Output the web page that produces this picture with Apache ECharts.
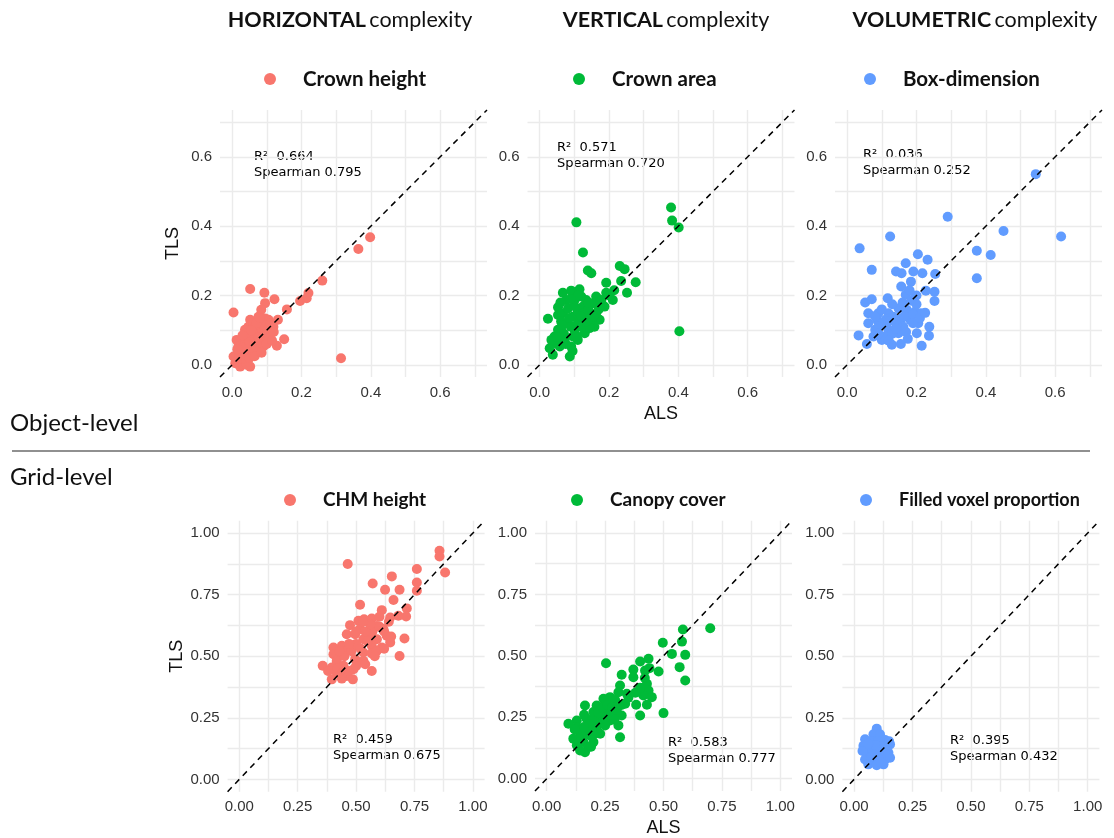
<!DOCTYPE html>
<html><head><meta charset="utf-8">
<script src="https://cdn.jsdelivr.net/npm/echarts@6/dist/echarts.min.js"></script>
<style>html,body{margin:0;padding:0;background:#fff}#c{width:1114px;height:838px}</style>
</head><body><div id="c"></div>
<script>
// ---------------- data ----------------
const columnTitles = [['HORIZONTAL', 'complexity'], ['VERTICAL', 'complexity'], ['VOLUMETRIC', 'complexity']];
const rowLabels = ['Object-level', 'Grid-level'];
const seriesNames = ['Crown height', 'Crown area', 'Box-dimension', 'CHM height', 'Canopy cover', 'Filled voxel proportion'];
const r2Values = ['0.664', '0.571', '0.036', '0.459', '0.583', '0.395'];
const spearmanValues = ['0.795', '0.720', '0.252', '0.675', '0.777', '0.432'];
const axisXName = 'ALS';
const axisYName = 'TLS';

const objectGridValues = [0, 0.1, 0.2, 0.3, 0.4, 0.5, 0.6, 0.7];
const objectTickLabels = [0, 0.2, 0.4, 0.6];
const objectRange = [-0.035, 0.735];
const gridGridValues = [0, 0.125, 0.25, 0.375, 0.5, 0.625, 0.75, 0.875, 1];
const gridTickLabels = [0, 0.25, 0.5, 0.75, 1];
const gridRange = [-0.05, 1.05];

const crownHeight = [
  [0.398,0.368],[0.364,0.334],[0.26,0.243],[0.22,0.207],[0.196,0.184],[0.215,0.192],[0.158,0.160],
  [0.314,0.019],[0.052,0.219],[0.093,0.208],[0.122,0.189],[0.004,0.151],[0.095,0.178],[0.084,0.159],
  [0.132,0.130],[0.119,0.110],[0.150,0.074],[0.129,0.055],[0.052,0.130],[0.047,0.110],
  [0.013,0.072],[0.028,0.072],[0.042,0.077],[0.057,0.086],[0.071,0.091],[0.086,0.101],[0.100,0.110],
  [0.105,0.130],[0.076,0.139],[0.061,0.120],[0.037,0.101],[0.018,0.053],[0.004,0.024],[0.009,0.005],
  [0.023,-0.005],[0.042,0.000],[0.052,-0.005],[0.033,0.019],[0.047,0.034],[0.066,0.048],[0.081,0.058],
  [0.095,0.072],[0.086,0.082],[0.066,0.067],[0.023,0.038],[0.057,0.058],[0.042,0.048],[0.110,0.091],
  [0.095,0.134],[0.066,0.106],[0.090,0.053],[0.037,0.062],[0.013,0.010],[0.105,0.077],
  [0.020,0.030],[0.030,0.050],[0.050,0.020],[0.060,0.040],[0.070,0.070],[0.080,0.090],[0.060,0.090],
  [0.040,0.090],[0.050,0.065],[0.075,0.080],[0.090,0.115],[0.070,0.120],[0.080,0.135],[0.110,0.120],
  [0.120,0.095],[0.030,0.085],[0.015,0.045],[0.100,0.060],[0.115,0.070],[0.065,0.025],[0.085,0.035],
  [0.055,0.100]
];
const crownArea = [
  [0.379,0.454],[0.382,0.416],[0.401,0.396],[0.403,0.097],[0.106,0.411],[0.125,0.324],[0.139,0.272],
  [0.149,0.264],[0.231,0.285],[0.245,0.276],[0.235,0.242],[0.277,0.238],[0.252,0.208],[0.192,0.237],
  [0.211,0.187],[0.192,0.208],[0.187,0.168],[0.163,0.197],[0.154,0.178],[0.067,0.208],[0.091,0.214],
  [0.115,0.218],[0.024,0.133],[0.053,0.166],[0.053,0.144],[0.077,0.187],[0.101,0.187],[0.125,0.168],
  [0.139,0.149],[0.173,0.130],[0.158,0.110],[0.130,0.091],[0.110,0.072],[0.091,0.053],[0.087,0.024],
  [0.038,0.029],[0.029,0.048],[0.043,0.082],[0.062,0.101],[0.082,0.120],[0.096,0.139],[0.110,0.154],
  [0.067,0.149],[0.072,0.072],[0.058,0.053],[0.048,0.062],[0.101,0.101],[0.115,0.125],[0.134,0.187],
  [0.149,0.130],[0.053,0.101],[0.120,0.197],[0.082,0.163],[0.096,0.082],[0.062,0.125],[0.125,0.149],
  [0.163,0.149],[0.178,0.187],[0.144,0.106],[0.034,0.072],
  [0.070,0.090],[0.090,0.110],[0.110,0.120],[0.120,0.140],[0.140,0.160],[0.100,0.170],[0.085,0.135],
  [0.065,0.115],[0.050,0.080],[0.120,0.110],[0.135,0.125],[0.155,0.140],[0.170,0.160],[0.105,0.085],
  [0.075,0.060],[0.095,0.040],[0.140,0.180],[0.160,0.180],[0.200,0.200],[0.215,0.215],[0.110,0.200],
  [0.090,0.190],[0.060,0.180]
];
const boxDimension = [
  [0.544,0.550],[0.617,0.370],[0.290,0.427],[0.451,0.386],[0.374,0.329],[0.414,0.317],[0.374,0.250],
  [0.124,0.370],[0.036,0.336],[0.071,0.274],[0.204,0.319],[0.232,0.303],[0.169,0.293],[0.141,0.269],
  [0.157,0.264],[0.191,0.269],[0.217,0.264],[0.254,0.262],[0.184,0.240],[0.156,0.226],[0.227,0.214],
  [0.252,0.211],[0.252,0.184],[0.196,0.197],[0.169,0.202],[0.117,0.192],[0.052,0.180],[0.071,0.189],
  [0.061,0.149],[0.090,0.149],[0.119,0.149],[0.148,0.163],[0.172,0.159],[0.196,0.154],[0.213,0.149],
  [0.061,0.120],[0.086,0.130],[0.111,0.130],[0.133,0.139],[0.157,0.134],[0.182,0.130],[0.205,0.120],
  [0.237,0.110],[0.201,0.091],[0.236,0.084],[0.215,0.055],[0.129,0.058],[0.100,0.072],[0.076,0.082],
  [0.033,0.085],[0.057,0.060],[0.148,0.091],[0.119,0.101],[0.081,0.101],[0.162,0.110],[0.110,0.082],
  [0.143,0.115],
  [0.100,0.120],[0.120,0.125],[0.140,0.130],[0.165,0.140],[0.190,0.145],[0.090,0.110],[0.130,0.090],
  [0.170,0.095],[0.190,0.120],[0.210,0.135],[0.225,0.150],[0.080,0.140],[0.100,0.160],[0.130,0.175],
  [0.160,0.180],[0.185,0.185],[0.200,0.175],[0.140,0.105],[0.120,0.070],[0.175,0.075],[0.155,0.060],
  [0.090,0.090],[0.200,0.200],[0.180,0.215]
];
const chmHeight = [
  [0.857,0.928],[0.857,0.905],[0.881,0.840],[0.464,0.874],[0.760,0.854],[0.760,0.799],[0.760,0.766],
  [0.653,0.824],[0.571,0.795],[0.624,0.770],[0.686,0.770],[0.660,0.728],[0.517,0.709],[0.717,0.694],
  [0.714,0.661],[0.610,0.687],[0.646,0.657],[0.681,0.664],[0.567,0.653],[0.534,0.650],[0.510,0.644],
  [0.474,0.626],[0.589,0.623],[0.617,0.610],[0.517,0.610],[0.460,0.589],[0.496,0.589],[0.553,0.583],
  [0.631,0.583],[0.589,0.569],[0.531,0.569],[0.707,0.572],[0.646,0.556],[0.610,0.535],[0.567,0.542],
  [0.439,0.542],[0.403,0.535],[0.489,0.542],[0.460,0.522],[0.531,0.515],[0.567,0.511],[0.403,0.508],
  [0.431,0.501],[0.686,0.501],[0.496,0.488],[0.531,0.481],[0.417,0.481],[0.357,0.461],[0.396,0.454],
  [0.446,0.461],[0.489,0.447],[0.567,0.440],[0.417,0.434],[0.460,0.420],[0.439,0.409],[0.396,0.406],
  [0.486,0.406],[0.539,0.467],[0.589,0.522],
  [0.420,0.450],[0.440,0.430],[0.470,0.440],[0.500,0.460],[0.450,0.500],[0.480,0.520],[0.500,0.550],
  [0.520,0.530],[0.550,0.560],[0.570,0.600],[0.600,0.620],[0.540,0.600],[0.500,0.600],[0.560,0.630],
  [0.530,0.640],[0.620,0.600],[0.640,0.640],[0.600,0.660],[0.470,0.550],[0.430,0.520],[0.580,0.500],
  [0.620,0.530],[0.650,0.580],[0.380,0.440]
];
const canopyCover = [
  [0.700,0.612],[0.583,0.607],[0.579,0.558],[0.497,0.553],[0.536,0.508],[0.593,0.504],[0.569,0.454],
  [0.593,0.400],[0.254,0.470],[0.400,0.477],[0.436,0.488],[0.371,0.444],[0.421,0.440],[0.479,0.436],
  [0.321,0.423],[0.371,0.413],[0.429,0.386],[0.314,0.379],[0.436,0.359],[0.414,0.339],[0.450,0.332],
  [0.429,0.301],[0.383,0.301],[0.500,0.267],[0.400,0.257],[0.343,0.346],[0.307,0.352],[0.271,0.332],
  [0.336,0.305],[0.303,0.301],[0.243,0.325],[0.214,0.298],[0.250,0.285],[0.286,0.271],[0.321,0.257],
  [0.164,0.298],[0.200,0.271],[0.236,0.251],[0.271,0.237],[0.307,0.217],[0.171,0.244],[0.129,0.237],
  [0.093,0.224],[0.129,0.210],[0.171,0.203],[0.214,0.210],[0.250,0.217],[0.314,0.169],[0.143,0.183],
  [0.186,0.176],[0.229,0.183],[0.114,0.163],[0.157,0.149],[0.129,0.136],[0.179,0.129],[0.164,0.108],
  [0.200,0.149],[0.143,0.115],[0.264,0.278],[0.293,0.320],
  [0.150,0.170],[0.170,0.190],[0.190,0.200],[0.210,0.220],[0.230,0.240],[0.250,0.250],[0.270,0.260],
  [0.200,0.240],[0.180,0.220],[0.160,0.210],[0.220,0.270],[0.240,0.290],[0.260,0.300],[0.280,0.290],
  [0.300,0.280],[0.320,0.300],[0.350,0.330],[0.380,0.350],[0.400,0.370],[0.420,0.410],[0.440,0.450],
  [0.140,0.150],[0.120,0.200],[0.190,0.130],[0.200,0.180],[0.160,0.260],[0.290,0.240]
];
const filledVoxel = [
  [0.097,0.206],[0.083,0.183],[0.111,0.183],[0.047,0.163],[0.076,0.156],[0.104,0.156],[0.133,0.160],
  [0.154,0.142],[0.040,0.136],[0.069,0.129],[0.097,0.129],[0.126,0.129],[0.054,0.108],[0.083,0.102],
  [0.111,0.106],[0.147,0.108],[0.047,0.081],[0.076,0.075],[0.104,0.081],[0.133,0.081],[0.154,0.088],
  [0.061,0.061],[0.097,0.057],[0.126,0.061],[0.076,0.092],[0.119,0.136],[0.036,0.115],
  [0.090,0.140],[0.060,0.145],[0.140,0.120],[0.115,0.070],[0.150,0.155]
];
const panelData = [crownHeight, crownArea, boxDimension, chmHeight, canopyCover, filledVoxel];
const palette = ['#F8766D', '#00BA38', '#619CFF'];

// ---------------- layout ----------------
const topLefts = [220, 527.5, 835];
const botLefts = [227.6, 535, 842.4];
const panels = [];
for (let i = 0; i < 3; i++) panels.push({left: topLefts[i], top: 110, width: 267, height: 267, obj: true});
for (let i = 0; i < 3; i++) panels.push({left: botLefts[i], top: 520.7, width: 257, height: 271, obj: false});
const legendDots = [[270, 79], [579, 79], [870, 79], [290, 500], [577, 500], [866, 500]];
const legendSizes = [20.5, 20.5, 20.5, 19, 19, 18];
const annotPos = [[254, 157], [557, 148], [863, 155], [333, 740], [668, 743], [950, 741]];
const titleCenters = [350, 666, 975];

const grids = [], xAxes = [], yAxes = [], series = [], legends = [], graphics = [];
const labelFont = {fontFamily: 'Liberation Sans', fontSize: 15, color: '#333'};

panels.forEach((p, i) => {
  grids.push({left: p.left, top: p.top, width: p.width, height: p.height, containLabel: false});
  const range = p.obj ? objectRange : gridRange;
  const lines = p.obj ? objectGridValues : gridGridValues;
  const labs = p.obj ? objectTickLabels : gridTickLabels;
  const dec = p.obj ? 1 : 2;
  const common = {
    type: 'value', gridIndex: i, min: range[0], max: range[1],
    axisLine: {show: false},
    axisTick: {show: false, customValues: lines},
    axisLabel: Object.assign({customValues: labs, formatter: v => Number(v).toFixed(dec), margin: 8}, labelFont),
    splitLine: {show: true, lineStyle: {color: '#EBEBEB', width: 1.4}},
    nameTextStyle: {fontFamily: 'Liberation Sans', fontSize: 18, color: '#111'}
  };
  const xa = Object.assign({}, common);
  const ya = Object.assign({}, common);
  if (i === 1 || i === 4) { xa.name = axisXName; xa.nameLocation = 'middle'; xa.nameGap = 28; }
  if (i === 0 || i === 3) { ya.name = axisYName; ya.nameLocation = 'middle'; ya.nameGap = 38; }
  xAxes.push(xa); yAxes.push(ya);
  const color = palette[i % 3];
  series.push({
    name: seriesNames[i], type: 'scatter', xAxisIndex: i, yAxisIndex: i,
    data: panelData[i], symbolSize: 10, itemStyle: {color: color, opacity: 1}, z: 2, silent: true
  });
  series.push({
    type: 'line', xAxisIndex: i, yAxisIndex: i, data: [[range[0], range[0]], [range[1], range[1]]],
    symbol: 'none', silent: true, z: 3, clip: false,
    lineStyle: {color: '#000', width: 1.5, type: [6, 5]}
  });
  legends.push({
    data: [seriesNames[i]], left: legendDots[i][0] - 6, top: legendDots[i][1] - 12, padding: 0,
    icon: 'circle', itemWidth: 12, itemHeight: 12, selectedMode: false,
    itemStyle: {color: color},
    textStyle: {fontFamily: 'Lato', fontWeight: 'bold', fontSize: legendSizes[i], color: '#111', padding: [0, 0, 0, 22], lineHeight: 24}
  });
  graphics.push({
    type: 'text', left: annotPos[i][0], top: annotPos[i][1] - 8,
    style: {text: 'R\u00b2  ' + r2Values[i] + '\nSpearman ' + spearmanValues[i],
      font: '13px "DejaVu Sans"', fill: '#000', lineHeight: 15.5}
  });
});

columnTitles.forEach((t, i) => {
  graphics.push({
    type: 'text', x: titleCenters[i], y: 20,
    style: {text: '{b|' + t[0] + '} {n|' + t[1] + '}', align: 'center', verticalAlign: 'middle',
      rich: {b: {fontFamily: 'Lato', fontWeight: 'bold', fontSize: 21.5, fill: '#111'},
             n: {fontFamily: 'Lato', fontSize: 21.5, fill: '#111'}}}
  });
});
graphics.push({type: 'text', x: 10, y: 423, style: {text: rowLabels[0], font: '24px Lato', fill: '#111', verticalAlign: 'middle'}});
graphics.push({type: 'text', x: 10, y: 477, style: {text: rowLabels[1], font: '24px Lato', fill: '#111', verticalAlign: 'middle'}});
graphics.push({type: 'line', shape: {x1: 12, y1: 451, x2: 1090, y2: 451}, style: {stroke: '#222', lineWidth: 1.2}});

const chart = echarts.init(document.getElementById('c'), null, {renderer: 'canvas'});
chart.setOption({
  animation: false, backgroundColor: '#fff',
  grid: grids, xAxis: xAxes, yAxis: yAxes, series: series, legend: legends, graphic: graphics
});
</script></body></html>
